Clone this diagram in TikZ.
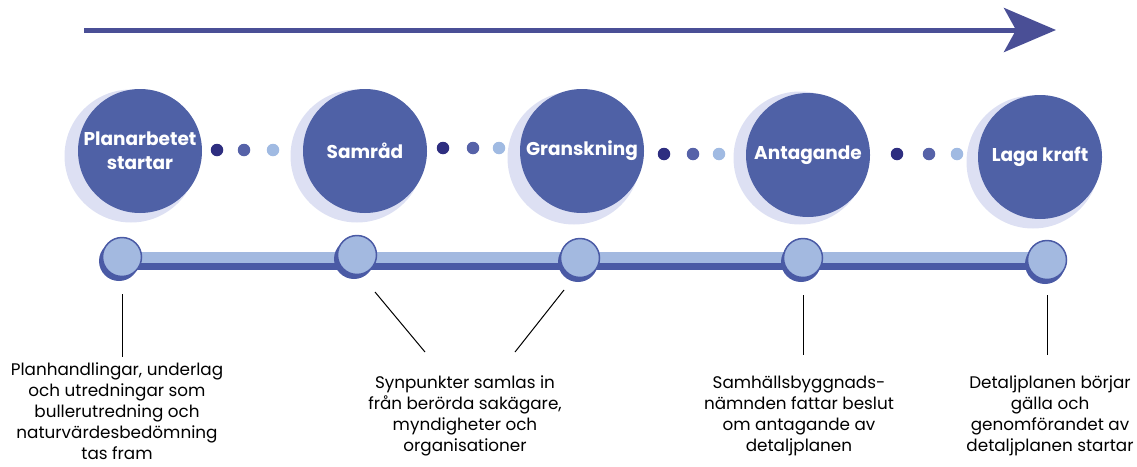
\documentclass[tikz,border=0pt]{standalone}
\usepackage{fontspec}
\setmainfont{Poppins}
\usepackage{tikz}
\usetikzlibrary{shapes,positioning,calc}
\usetikzlibrary{arrows.meta}
\definecolor{fasbla}{RGB}{79,97,166}
\definecolor{skuggbla}{RGB}{221,224,243}
\definecolor{ljusbla}{RGB}{163,185,224}
\definecolor{morkbla}{RGB}{74,90,165}
\definecolor{pilbla}{RGB}{74,79,150}
\definecolor{prickA}{RGB}{46,46,128}
\definecolor{prickB}{RGB}{86,98,168}
\definecolor{prickC}{RGB}{160,186,226}
\tikzstyle{fas} = [circle, fill=fasbla, minimum size=124pt, inner sep=0pt,
text=white, font=\fontsize{18.5}{24}\selectfont, align=center]
\tikzstyle{skugga} = [circle, fill=skuggbla, minimum size=133pt, inner sep=0pt]
\tikzstyle{punkt} = [circle, fill=ljusbla, draw=morkbla, line width=1.5pt, minimum size=39pt, inner sep=0pt]
\tikzstyle{punktskugga} = [circle, fill=morkbla, minimum size=40pt, inner sep=0pt]
\tikzstyle{prick} = [circle, minimum size=12.5pt, inner sep=0pt]
\tikzstyle{beskrivning} = [align=center, inner sep=0pt, font=\fontsize{16.8}{21}\selectfont]
\tikzstyle{linje} = [line width=1pt, black]
\tikzstyle{arrow} = [line width=5pt, pilbla, -{Stealth[length=52pt, width=44pt, inset=12pt]}]

\begin{document}
\begin{tikzpicture}[x=1pt, y=-1pt]
				\useasboundingbox (0,0) rectangle (1137,466);
				% pil overst
				\coordinate (pilstart) at (84,30);
				\coordinate (pilslut) at (1056,30);
				\draw[arrow] (pilstart) -- (pilslut);
				% faser
				\node[skugga] (sk1) at (131,156) {};
				\node[skugga] (sk2) at (357,156) {};
				\node[skugga] (sk3) at (574,158) {};
				\node[skugga] (sk4) at (800,158) {};
				\node[skugga] (sk5) at (1033,162) {};
				\node (f1) at (140,151) [fas] {\textbf{Planarbetet}\\\textbf{startar}};
				\node (f2) at (365,151) [fas] {\textbf{Samråd}};
				\node (f3) at (582,151) [fas] {\textbf{Granskning}};
				\node (f4) at (808,155) [fas] {\textbf{Antagande}};
				\node (f5) at (1040,157) [fas] {\textbf{Laga kraft}};
				% prickar
				\node[prick, fill=prickA] (a1) at (217,150) {};
				\node[prick, fill=prickB] (b1) at (244,150) {};
				\node[prick, fill=prickC] (c1) at (273,150) {};
				\node[prick, fill=prickA] (a2) at (443,148) {};
				\node[prick, fill=prickB] (b2) at (473,148) {};
				\node[prick, fill=prickC] (c2) at (499,148) {};
				\node[prick, fill=prickA] (a3) at (664,154) {};
				\node[prick, fill=prickB] (b3) at (693,154) {};
				\node[prick, fill=prickC] (c3) at (719,154) {};
				\node[prick, fill=prickA] (a4) at (897,154) {};
				\node[prick, fill=prickB] (b4) at (929,154) {};
				\node[prick, fill=prickC] (c4) at (957,154) {};
				% tidslinje
				\coordinate (linstart) at (105,257);
				\coordinate (linslut) at (1045,257);
				\draw[morkbla, line width=18pt] ($(linstart)+(0,4)$) -- ($(linslut)+(0,4)$);
				\draw[ljusbla, line width=11pt] (linstart) -- (linslut);
				\node[punktskugga] (ps1) at (119,261) {};
				\node[punktskugga] (ps2) at (354,259) {};
				\node[punktskugga] (ps3) at (578,262) {};
				\node[punktskugga] (ps4) at (801,262) {};
				\node[punktskugga] (ps5) at (1045,264) {};
				\node[punkt] (p1) at (122,257) {};
				\node[punkt] (p2) at (357,255) {};
				\node[punkt] (p3) at (580,258) {};
				\node[punkt] (p4) at (803,258) {};
				\node[punkt] (p5) at (1047,260) {};
				% beskrivningar
				\node[beskrivning, anchor=north] (t1) at (117,363) {Planhandlingar, underlag\\och utredningar som\\bullerutredning och\\naturvärdesbedömning\\tas fram};
				\node[beskrivning, anchor=north] (t2) at (465,376) {Synpunkter samlas in\\från berörda sakägare,\\myndigheter och\\organisationer};
				\node[beskrivning, anchor=north] (t4) at (799,376) {Samhällsbyggnads-\\nämnden fattar beslut\\om antagande av\\detaljplanen};
				\node[beskrivning, anchor=north] (t5) at (1050,376) {Detaljplanen börjar\\gälla och\\genomförandet av\\detaljplanen startar};
				\coordinate (k2a) at (375,292);
				\coordinate (k2) at (425,352);
				\coordinate (k3a) at (564,290);
				\coordinate (k3) at (515,352);
				\draw[linje] ([yshift=-17pt]p1.south) -- ([yshift=6pt]p1.south |- t1.north);
				\draw[linje] (k2a) -- (k2);
				\draw[linje] (k3a) -- (k3);
				\draw[linje] ([yshift=-17pt]p4.south) -- ([yshift=21pt]p4.south |- t4.north);
				\draw[linje] ([yshift=-15pt]p5.south) -- ([yshift=21pt]p5.south |- t5.north);
\end{tikzpicture}
\end{document}
